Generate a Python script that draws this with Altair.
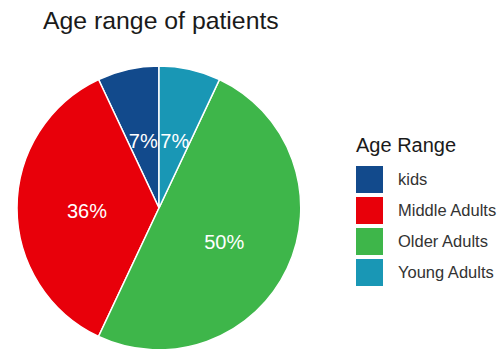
import altair as alt
import pandas as pd

# Patient counts by age group (percent of all patients)
groups = ["kids", "Middle Adults", "Older Adults", "Young Adults"]
shares = [7, 36, 50, 7]
# clockwise drawing order starting at 12 o'clock
draw_order = [3, 2, 1, 0]
labels = ["7%", "36%", "50%", "7%"]
palette = ["#124a8c", "#e8000a", "#3eb64a", "#1997b5"]

df = pd.DataFrame({
    "group": groups,
    "share": shares,
    "ord": draw_order,
    "label": labels,
})

FONT = "Liberation Sans"
CX, CY, R = 159, 208, 142

base = alt.Chart(df).encode(
    theta=alt.Theta("share:Q", stack=True),
    order=alt.Order("ord:Q", sort="ascending"),
    x=alt.value(CX),
    y=alt.value(CY),
)

pie = base.mark_arc(radius=R, stroke="white", strokeWidth=1.5).encode(
    color=alt.Color(
        "group:N",
        scale=alt.Scale(domain=groups, range=palette),
        legend=alt.Legend(
            title="Age Range",
            orient="none",
            legendX=356,
            legendY=136,
            titleFontSize=20,
            titleFont=FONT,
            titleFontWeight="normal",
            titleColor="#1a1a1a",
            titlePadding=10,
            labelFont=FONT,
            labelFontSize=16.5,
            labelColor="#333333",
            labelOffset=15,
            symbolType="square",
            symbolSize=729,
            symbolStrokeWidth=0,
            symbolOpacity=1,
            rowPadding=4,
        ),
    )
)

text = base.mark_text(
    radius=72, font=FONT, fontSize=20, color="white", baseline="middle", dy=4
).encode(text="label:N")

chart = (
    (pie + text)
    .properties(
        width=497,
        height=349,
        padding=0,
        autosize=alt.AutoSizeParams(type="none"),
        title=alt.TitleParams(
            "Age range of patients",
            anchor="start",
            frame="group",
            font=FONT,
            fontSize=24.8,
            fontWeight="normal",
            color="#1a1a1a",
            baseline="alphabetic",
            offset=0,
            dx=43,
            dy=54,
        ),
    )
    .configure_view(stroke=None)
)

chart.save("out.html", embed_options={"renderer": "svg", "actions": False})
